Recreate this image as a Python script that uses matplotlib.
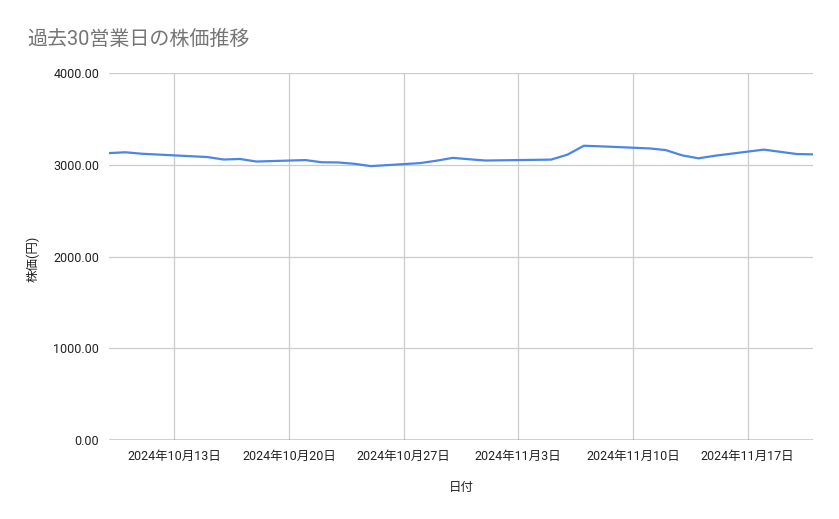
import datetime as dt
import matplotlib
matplotlib.use("Agg")
import matplotlib.pyplot as plt
import matplotlib.dates as mdates
from matplotlib.ticker import FuncFormatter, FixedLocator

# ---- Data ------------------------------------------------------------------
dates = [
    "2024-10-09", "2024-10-10", "2024-10-11", "2024-10-15", "2024-10-16",
    "2024-10-17", "2024-10-18", "2024-10-21", "2024-10-22", "2024-10-23",
    "2024-10-24", "2024-10-25", "2024-10-28", "2024-10-29", "2024-10-30",
    "2024-10-31", "2024-11-01", "2024-11-05", "2024-11-06", "2024-11-07",
    "2024-11-08", "2024-11-11", "2024-11-12", "2024-11-13", "2024-11-14",
    "2024-11-15", "2024-11-18", "2024-11-19", "2024-11-20", "2024-11-21",
]
prices = [
    3127, 3136, 3120, 3084, 3057, 3063, 3035, 3051, 3027, 3025,
    3010, 2985, 3018, 3044, 3075, 3060, 3046, 3056, 3110, 3207,
    3201, 3178, 3160, 3103, 3070, 3098, 3165, 3141, 3117, 3113,
]
tick_dates = ["2024-10-13", "2024-10-20", "2024-10-27",
              "2024-11-03", "2024-11-10", "2024-11-17"]
y_ticks = [0, 1000, 2000, 3000, 4000]

title = "過去30営業日の株価推移"
x_label = "日付"
y_label = "株価(円)"

# ---- Style -----------------------------------------------------------------
plt.rcParams["font.family"] = ["Roboto", "Noto Sans CJK JP", "DejaVu Sans"]
LINE_COLOR = "#4a86e8"
GRID_COLOR = "#cccccc"
TEXT_COLOR = "#222222"

x = [dt.datetime.strptime(d, "%Y-%m-%d") for d in dates]
xt = [mdates.date2num(dt.datetime.strptime(d, "%Y-%m-%d")) for d in tick_dates]

fig = plt.figure(figsize=(8.39, 5.19), dpi=100)
ax = fig.add_axes([109 / 839, 1 - 440 / 519, (813 - 109) / 839, (440 - 73) / 519])

ax.plot(x, prices, color=LINE_COLOR, linewidth=1.6, solid_joinstyle="round", zorder=3)

ax.set_xlim(dt.datetime(2024, 10, 9), dt.datetime(2024, 11, 21))
ax.set_ylim(0, 4000)
ax.xaxis.set_major_locator(FixedLocator(xt))
ax.xaxis.set_major_formatter(FuncFormatter(
    lambda v, p: (lambda d: f"{d.year}年{d.month}月{d.day}日")(mdates.num2date(v))))
ax.set_yticks(y_ticks)
ax.yaxis.set_major_formatter(FuncFormatter(lambda v, p: f"{v:.2f}"))

ax.grid(True, color=GRID_COLOR, linewidth=0.9, zorder=0)
ax.axhline(0, color="#333333", linewidth=1.0, zorder=2)
for s in ax.spines.values():
    s.set_visible(False)
ax.tick_params(length=0, labelsize=9, colors=TEXT_COLOR)
ax.tick_params(axis="x", pad=7)
ax.tick_params(axis="y", pad=7)

fig.text(27 / 839, 1 - 39 / 519, title, fontsize=14.4, color="#757575",
         ha="left", va="center")
fig.text(461 / 839, 1 - 487 / 519, x_label, fontsize=9, color=TEXT_COLOR,
         ha="center", va="center")
fig.text(33 / 839, 1 - 259 / 519, y_label, fontsize=9, color=TEXT_COLOR,
         ha="center", va="center", rotation=90)

fig.savefig("out.png", dpi=100, facecolor="white")
plt.close(fig)
